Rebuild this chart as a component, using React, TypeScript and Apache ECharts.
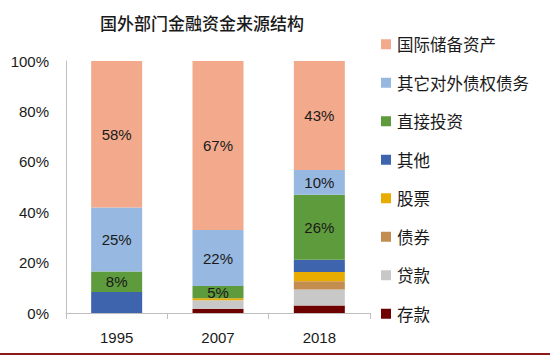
import React, { useEffect, useRef } from "react";
import * as echarts from "echarts";

const categories = ["1995", "2007", "2018"];
const seriesNames = ["存款", "贷款", "债券", "股票", "其他", "直接投资", "其它对外债权债务", "国际储备资产"];
const deposits = [0, 1.7, 3.0];
const loans = [0, 3.4, 6.3];
const bonds = [0, 0, 3.3];
const stocks = [0, 0.8, 3.7];
const others = [8.3, 0, 4.8];
const fdi = [8.2, 4.8, 25.8];
const otherDebt = [25.4, 22.2, 9.8];
const reserves = [58.1, 67.1, 43.3];
const yTicks = ["0%", "20%", "40%", "60%", "80%", "100%"];
const legendOrder = ["国际储备资产", "其它对外债权债务", "直接投资", "其他", "股票", "债券", "贷款", "存款"];

const seriesData = [deposits, loans, bonds, stocks, others, fdi, otherDebt, reserves];
const colors = ["#6E0000", "#C8C8C8", "#C28D4F", "#E8AC00", "#3D64AD", "#5E9B3C", "#97B8E0", "#F2A98C"];
const labeled = [false, false, false, false, false, true, true, true];

export default function App() {
  const ref = useRef<HTMLDivElement>(null);
  useEffect(() => {
    if (!ref.current) return;
    const chart = echarts.init(ref.current, null, { renderer: "svg" });
    chart.setOption({
      animation: false,
      title: {
        text: "国外部门金融资金来源结构",
        left: 197,
        top: 9,
        textAlign: "center",
        textStyle: { fontFamily: "Noto Sans CJK SC", fontSize: 17, fontWeight: 500, color: "#1a1a1a" },
      },
      grid: { left: 66, right: 180, top: 61, bottom: 46 },
      legend: {
        orient: "vertical",
        left: 376,
        top: 31,
        itemWidth: 10,
        itemHeight: 10,
        itemGap: 22,
        icon: "rect",
        data: legendOrder,
        textStyle: { fontFamily: "Noto Sans CJK SC", fontSize: 16.5, color: "#1a1a1a", padding: [0, 0, 0, 1] },
      },
      xAxis: {
        type: "category",
        data: categories,
        axisLine: { lineStyle: { color: "#BFBFBF", width: 1 } },
        axisTick: { show: true, length: 6, lineStyle: { color: "#BFBFBF" } },
        axisLabel: { fontFamily: "Liberation Sans", fontSize: 15, color: "#1a1a1a", margin: 17 },
      },
      yAxis: {
        type: "value",
        min: 0,
        max: 100,
        interval: 20,
        axisLine: { show: true, lineStyle: { color: "#BFBFBF", width: 1 } },
        axisTick: { show: false },
        splitLine: { show: false },
        axisLabel: {
          fontFamily: "Liberation Sans",
          fontSize: 15,
          color: "#1a1a1a",
          margin: 17,
          formatter: (v: number) => yTicks[Math.round(v / 20)],
        },
      },
      series: seriesNames.map((name, i) => ({
        name,
        type: "bar",
        stack: "total",
        barWidth: 51,
        data: seriesData[i],
        itemStyle: { color: colors[i] },
        label: {
          show: labeled[i],
          position: "inside",
          fontFamily: "Liberation Sans",
          fontSize: 15,
          color: "#1a1a1a",
          formatter: (p: any) => Math.round(p.value) + "%",
        },
      })),
      graphic: [
        {
          type: "line",
          shape: { x1: 0, y1: 354, x2: 550, y2: 354 },
          style: { stroke: "#8B1A1A", lineWidth: 2 },
        },
      ],
    });
    return () => chart.dispose();
  }, []);
  return <div ref={ref} style={{ width: 550, height: 359, position: "absolute", left: 0, top: 0 }} />;
}
